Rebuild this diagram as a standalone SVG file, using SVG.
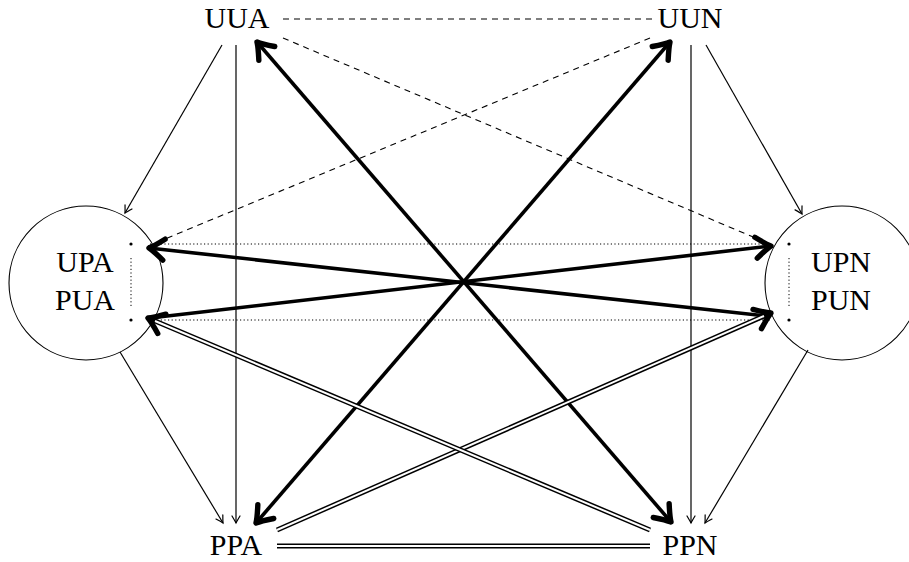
<svg xmlns="http://www.w3.org/2000/svg" width="909" height="562" viewBox="0 0 909 562">
<style>
text{font-family:"Liberation Serif","Times New Roman",serif;font-size:30px;fill:#000;text-anchor:middle}
.thin{stroke:#000;stroke-width:1.2;fill:none}
.dash{stroke:#000;stroke-width:1.1;fill:none;stroke-dasharray:6 5}
.dot{stroke:#000;stroke-width:1;fill:none;stroke-dasharray:1.2 2.4}
.thick{stroke:#000;stroke-width:3.6;fill:none}
.dblo{stroke:#000;stroke-width:5;fill:none}
.dbli{stroke:#fff;stroke-width:2;fill:none}
</style>
<defs>
<marker id="ah" markerUnits="userSpaceOnUse" orient="auto-start-reverse" markerWidth="20" markerHeight="20" refX="0" refY="0" viewBox="-12 -10 14 20" overflow="visible">
<path d="M-7,-4 Q-2,-1 0,0 Q-2,1 -7,4" fill="none" stroke="#000" stroke-width="1.2" stroke-linecap="round"/>
</marker>
<marker id="ahb" markerUnits="userSpaceOnUse" orient="auto-start-reverse" markerWidth="30" markerHeight="30" refX="0" refY="0" viewBox="-15 -10 17 20" overflow="visible">
<path d="M-10,-7 Q-3,-1.5 0,0 Q-3,1.5 -10,7" fill="none" stroke="#000" stroke-width="3.6" stroke-linecap="round" stroke-linejoin="round"/>
</marker>
</defs>
<g id="connectors">
<line class="dot" x1="150" y1="244" x2="770" y2="244"/>
<line class="dot" x1="150" y1="320" x2="770" y2="320"/>
<line class="dash" x1="283" y1="19" x2="652" y2="19"/>
<line class="dash" x1="283" y1="38" x2="772" y2="245"/>
<line class="dash" x1="650" y1="38" x2="148" y2="246"/>
<line class="thin" x1="222" y1="45" x2="125" y2="213" marker-end="url(#ah)"/>
<line class="thin" x1="236" y1="45" x2="236" y2="523" marker-end="url(#ah)"/>
<line class="thin" x1="706" y1="45" x2="802" y2="214" marker-end="url(#ah)"/>
<line class="thin" x1="691" y1="45" x2="691" y2="523" marker-end="url(#ah)"/>
<line class="thin" x1="120" y1="352" x2="223" y2="523" marker-end="url(#ah)"/>
<line class="thin" x1="808" y1="350" x2="705" y2="523" marker-end="url(#ah)"/>
<line class="thick" x1="257" y1="42" x2="671" y2="522" marker-start="url(#ahb)" marker-end="url(#ahb)"/>
<line class="thick" x1="670" y1="42" x2="256" y2="523" marker-start="url(#ahb)" marker-end="url(#ahb)"/>
<line class="thick" x1="766" y1="316" x2="149" y2="248" marker-end="url(#ahb)"/>
<line class="thick" x1="150" y1="318" x2="771" y2="246" marker-end="url(#ahb)"/>
<line class="dblo" x1="277" y1="530" x2="771" y2="313" marker-end="url(#ahb)"/>
<line class="dbli" x1="277" y1="530" x2="764" y2="316"/>
<line class="dblo" x1="650" y1="530" x2="148" y2="318" marker-end="url(#ahb)"/>
<line class="dbli" x1="650" y1="530" x2="155" y2="321"/>
<line class="dblo" x1="277" y1="546" x2="650" y2="546"/>
<line class="dbli" x1="277" y1="546" x2="650" y2="546"/>
</g>
<g id="UUA"><text x="237" y="28">UUA</text></g>
<g id="UUN"><text x="690" y="28">UUN</text></g>
<g id="PPA"><text x="236" y="555">PPA</text></g>
<g id="PPN"><text x="690" y="555">PPN</text></g>
<g id="UPA-PUA">
<circle cx="86" cy="283" r="77" fill="none" stroke="#000" stroke-width="1.1"/>
<text x="85" y="272">UPA</text>
<text x="85" y="310">PUA</text>
<circle cx="131" cy="244" r="1.6" fill="#000"/>
<circle cx="131" cy="320" r="1.6" fill="#000"/>
<line class="dot" x1="131" y1="258" x2="131" y2="308"/>
</g>
<g id="UPN-PUN">
<circle cx="842" cy="283" r="77" fill="none" stroke="#000" stroke-width="1.1"/>
<text x="841" y="272">UPN</text>
<text x="841" y="310">PUN</text>
<circle cx="789" cy="244" r="1.6" fill="#000"/>
<circle cx="789" cy="320" r="1.6" fill="#000"/>
<line class="dot" x1="789" y1="258" x2="789" y2="308"/>
</g>
</svg>
